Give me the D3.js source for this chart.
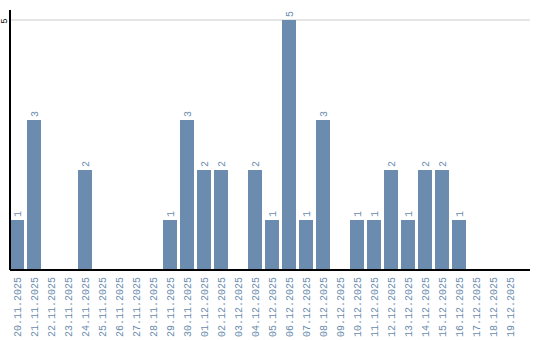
<!DOCTYPE html>
<html>
<head>
<meta charset="utf-8">
<script src="https://cdn.jsdelivr.net/npm/d3@7"></script>
<style>
  body { margin: 0; background: #fff; }
  svg text { font-family: "Liberation Mono", "DejaVu Sans Mono", monospace; }
</style>
</head>
<body>
<div id="chart"></div>
<script>
// dates and counts
var dates = ["20.11.2025","21.11.2025","22.11.2025","23.11.2025","24.11.2025","25.11.2025",
  "26.11.2025","27.11.2025","28.11.2025","29.11.2025","30.11.2025","01.12.2025","02.12.2025",
  "03.12.2025","04.12.2025","05.12.2025","06.12.2025","07.12.2025","08.12.2025","09.12.2025",
  "10.12.2025","11.12.2025","12.12.2025","13.12.2025","14.12.2025","15.12.2025","16.12.2025",
  "17.12.2025","18.12.2025","19.12.2025"];
var counts = [1,3,0,0,2,0,0,0,0,1,3,2,2,0,2,1,5,1,3,0,1,1,2,1,2,2,1,0,0,0];
var yTicks = [5];

var width = 540, height = 340;
var mLeft = 10, mBottom = 270, mTop = 10, mRight = 530;
var barColor = "#6b8cae";

var svg = d3.select("#chart").append("svg")
    .attr("width", width)
    .attr("height", height);

var x = d3.scaleBand()
    .domain(dates)
    .range([mLeft, mLeft + 17 * dates.length - 3])
    .paddingInner(3 / 17)
    .paddingOuter(0);

var y = d3.scaleLinear()
    .domain([0, 5.2])
    .range([mBottom, mTop]);

var rows = dates.map((d, i) => ({date: d, v: counts[i]})).filter(d => d.v > 0);

// gridline
svg.selectAll(".grid")
    .data(yTicks)
    .enter().append("line")
    .attr("x1", mLeft).attr("x2", mRight)
    .attr("y1", d => y(d)).attr("y2", d => y(d))
    .attr("stroke", "#cccccc")
    .attr("stroke-width", 1);

// bars
svg.selectAll(".bar")
    .data(rows)
    .enter().append("rect")
    .attr("x", d => x(d.date))
    .attr("y", d => y(d.v))
    .attr("width", x.bandwidth())
    .attr("height", d => y(0) - y(d.v))
    .attr("fill", barColor);

// value labels
svg.selectAll(".val")
    .data(rows)
    .enter().append("text")
    .attr("transform", d => "translate(" + (x(d.date) + x.bandwidth() / 2 + 3.5) + "," + (y(d.v) - 3) + ") rotate(-90)")
    .attr("fill", barColor)
    .attr("font-size", "10px")
    .text(d => d.v);

// axes lines
svg.append("line")
    .attr("x1", mLeft).attr("x2", mLeft)
    .attr("y1", mTop).attr("y2", mBottom)
    .attr("stroke", "#000").attr("stroke-width", 2);
svg.append("line")
    .attr("x1", mLeft).attr("x2", mRight)
    .attr("y1", mBottom).attr("y2", mBottom)
    .attr("stroke", "#000").attr("stroke-width", 2);

// y tick labels
svg.selectAll(".ytick")
    .data(yTicks)
    .enter().append("text")
    .attr("transform", d => "translate(7," + (y(d) + 1) + ") rotate(-90)")
    .attr("text-anchor", "middle")
    .attr("font-size", "9px")
    .attr("fill", "#000")
    .text(d => d);

// x labels
svg.selectAll(".xlab")
    .data(dates)
    .enter().append("text")
    .attr("transform", d => "translate(" + (x(d) + x.bandwidth() / 2 + 3.5) + "," + (mBottom + 7) + ") rotate(-90)")
    .attr("text-anchor", "end")
    .attr("font-size", "10px")
    .attr("fill", barColor)
    .text(d => d);
</script>
</body>
</html>
